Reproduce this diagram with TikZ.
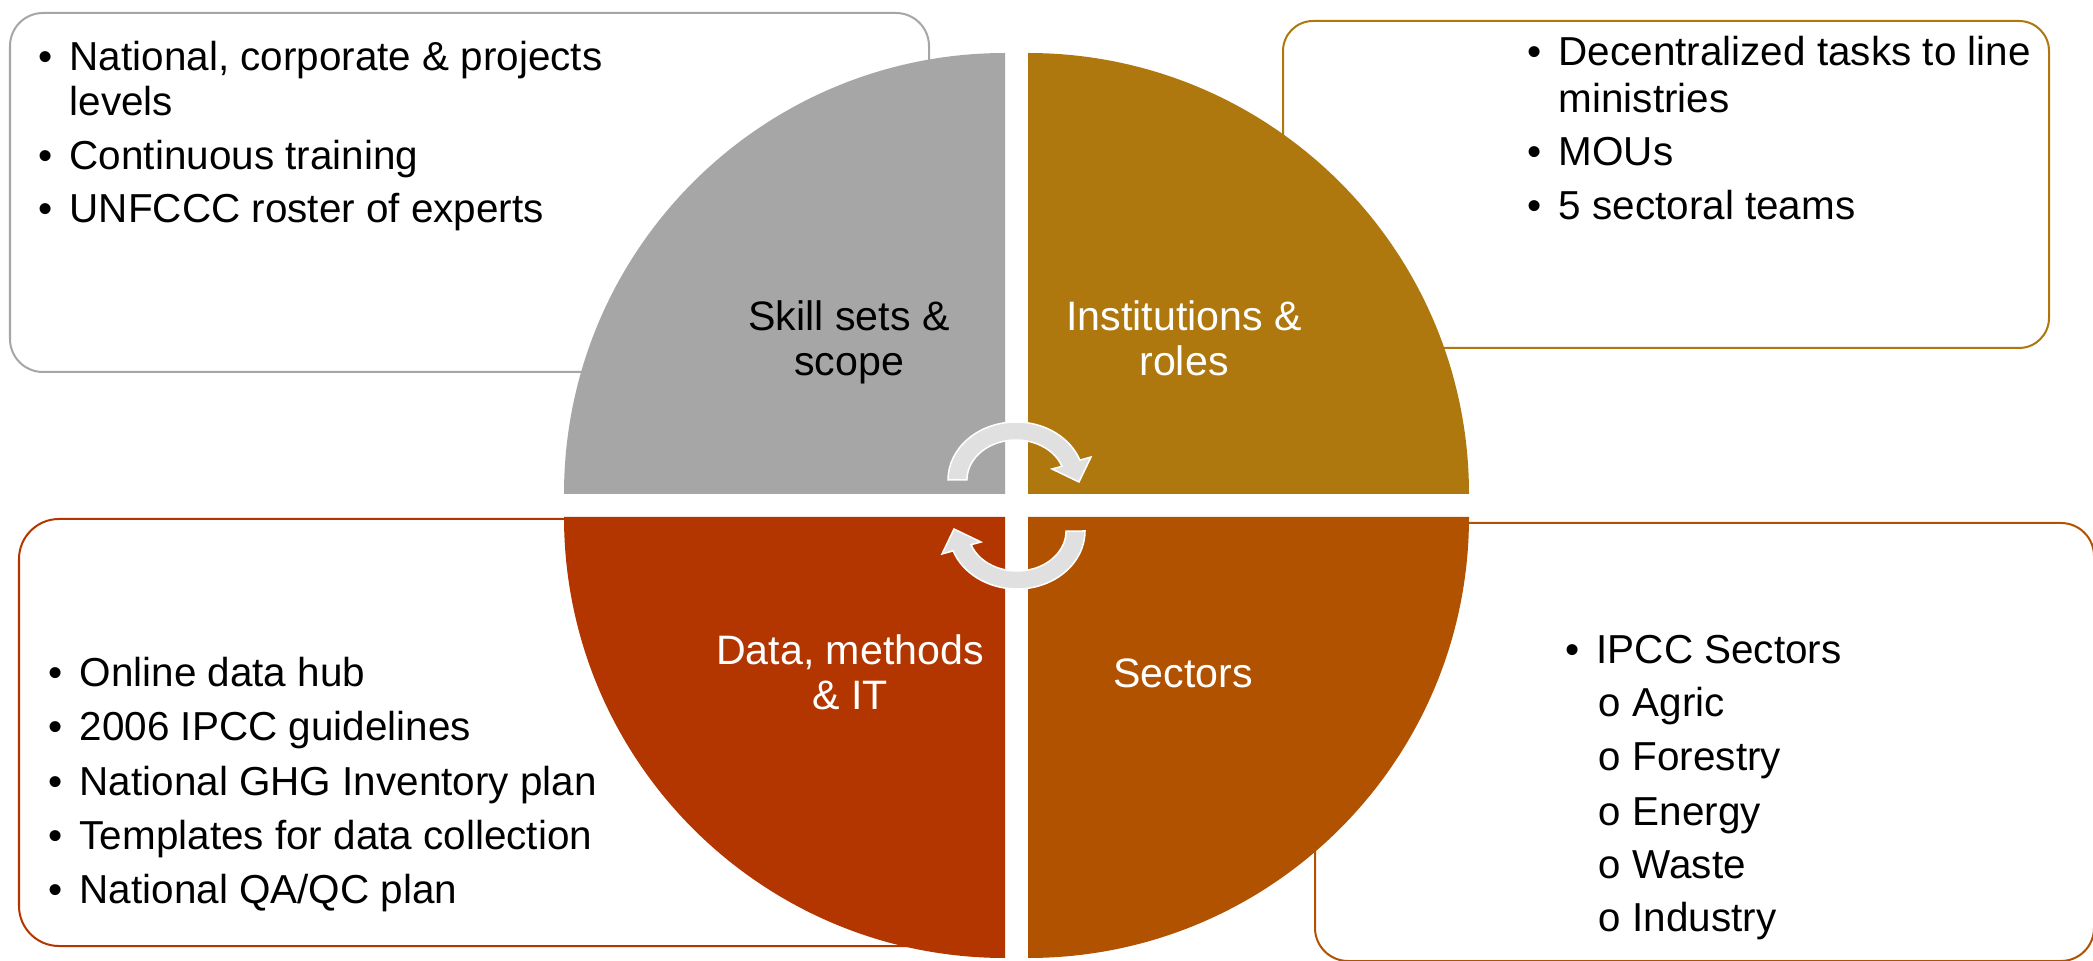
\documentclass[tikz,border=0pt]{standalone}
\usepackage{fontspec}
\setmainfont{Liberation Sans}
\newfontfamily\monof{Liberation Mono}
\definecolor{cgray}{HTML}{A6A6A6}
\definecolor{cgold}{HTML}{AE780E}
\definecolor{cred}{HTML}{B33600}
\definecolor{corange}{HTML}{B05200}
\definecolor{carrow}{HTML}{E0E0E0}
\newcommand\bulitem[5]{%
  \node[txt,anchor=base] (#1b) at (#2,#4) {•};
  \node[txt,anchor=base west] (#1) at (#3,#4) {#5};}
\newcommand\contline[4]{%
  \node[txt,anchor=base west] (#1) at (#2,#3) {#4};}
\newcommand\subbul[5]{%
  \node[txt,anchor=base west] (#1b) at (#2,#4) {\monof o};
  \node[txt,anchor=base west] (#1) at (#3,#4) {#5};}
\begin{document}
\begin{tikzpicture}[x=0.01cm,y=-0.01cm,
  box/.style={fill=white, line width=0.02cm},
  txt/.style={inner sep=0, font=\fontsize{11.5}{13}\selectfont, text=black},
  lbl/.style={inner sep=0, font=\fontsize{11.7}{13}\selectfont, anchor=base},
  carrowstyle/.style={fill=carrow, draw=white, line width=0.015cm}]
\useasboundingbox (0,0) rectangle (2093,961);
\fill[white] (0,0) rectangle (2093,961);
% text boxes
\draw[box, draw=cgray, rounded corners=0.33cm] (10,13) rectangle (929,372);
\draw[box, draw=cgold, rounded corners=0.30cm] (1283,21) rectangle (2049,348);
\draw[box, draw=cred, rounded corners=0.40cm] (19,519) rectangle (1000,946);
\draw[box, draw=corange, rounded corners=0.33cm] (1315,523) rectangle (2094,961);
% quadrants
\fill[cgray] (1005,494) -- (564,494) arc[start angle=180,end angle=270,radius=441] -- cycle;
\fill[cgold] (1028,494) -- (1028,53) arc[start angle=270,end angle=360,radius=441] -- cycle;
\fill[corange] (1028,517) -- (1469,517) arc[start angle=0,end angle=90,radius=441] -- cycle;
\fill[cred] (1005,517) -- (1005,958) arc[start angle=90,end angle=180,radius=441] -- cycle;
% cycle arrows
\filldraw[carrowstyle] (948,480) arc[start angle=180,end angle=340,x radius=68,y radius=58]
  -- (1091,457) -- (1079,482) -- (1052,469) -- (1062,466.3)
  arc[start angle=340,end angle=180,x radius=49,y radius=40] -- cycle;
\filldraw[carrowstyle, rotate around={180:(1016.5,505.5)}] (948,480) arc[start angle=180,end angle=340,x radius=68,y radius=58]
  -- (1091,457) -- (1079,482) -- (1052,469) -- (1062,466.3)
  arc[start angle=340,end angle=180,x radius=49,y radius=40] -- cycle;
% quadrant labels
\node[lbl, text=black] (q1a) at (849,331) {Skill sets \&};
\node[lbl, text=black] (q1b) at (849,376) {scope};
\node[lbl, text=white] (q2a) at (1184,331) {Institutions \&};
\node[lbl, text=white] (q2b) at (1184,376) {roles};
\node[lbl, text=white] (q3a) at (850,665) {Data, methods};
\node[lbl, text=white] (q3b) at (850,710) {\& IT};
\node[lbl, text=white] (q4a) at (1183,688) {Sectors};
% gray box text
\bulitem{g1}{46}{69}{71}{National, corporate \& projects}
\contline{g1c}{69}{116}{levels}
\bulitem{g2}{46}{69}{170}{Continuous training}
\bulitem{g3}{46}{69}{223}{UNFCCC roster of experts}
% gold box text
\bulitem{o1}{1535}{1558}{66}{Decentralized tasks to line}
\contline{o1c}{1558}{113}{ministries}
\bulitem{o2}{1535}{1558}{166}{MOUs}
\bulitem{o3}{1535}{1558}{220}{5 sectoral teams}
% red box text
\bulitem{r1}{56}{79}{686}{Online data hub}
\bulitem{r2}{56}{79}{741}{2006 IPCC guidelines}
\bulitem{r3}{56}{79}{795}{National GHG Inventory plan}
\bulitem{r4}{56}{79}{850}{Templates for data collection}
\bulitem{r5}{56}{79}{903}{National QA/QC plan}
% orange box text
\bulitem{s0}{1573}{1596}{663}{IPCC Sectors}
\subbul{s1}{1597}{1632}{716}{Agric}
\subbul{s2}{1597}{1632}{771}{Forestry}
\subbul{s3}{1597}{1632}{825}{Energy}
\subbul{s4}{1597}{1632}{878}{Waste}
\subbul{s5}{1597}{1632}{931}{Industry}
\end{tikzpicture}
\end{document}
